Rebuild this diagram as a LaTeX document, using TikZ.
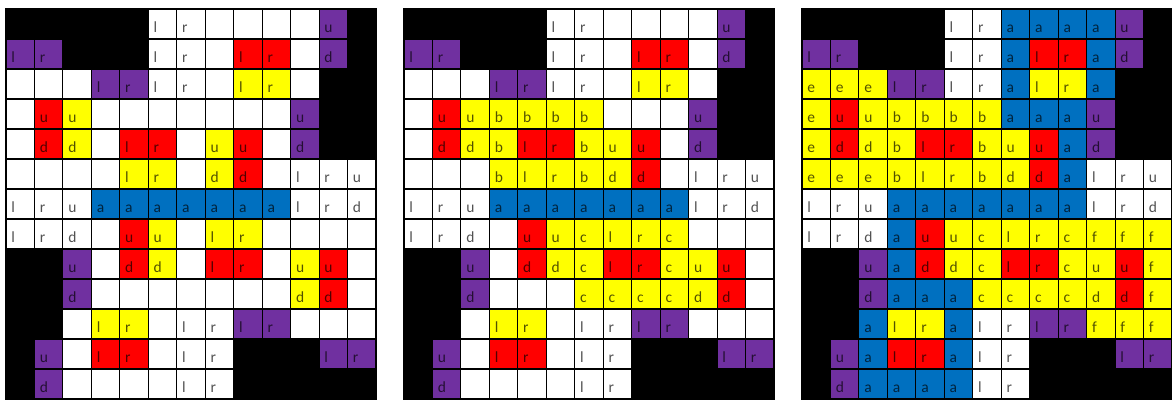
\documentclass[tikz,border=0pt]{standalone}
\usepackage{fontspec}
\setmainfont{Carlito}
\definecolor{cK}{RGB}{0,0,0}
\definecolor{cW}{RGB}{255,255,255}
\definecolor{cP}{RGB}{112,48,160}
\definecolor{cR}{RGB}{255,0,0}
\definecolor{cY}{RGB}{255,255,0}
\definecolor{cB}{RGB}{0,112,192}
\tikzset{
  cellbox/.style={draw=black, line width=1.1pt},
  lbl/.style={anchor=base west, inner sep=0pt, font=\fontsize{15.5}{17}\selectfont, text=black, text opacity=0.68}
}
\def\splitcell#1#2\end{\def\cc{#1}\def\ll{#2}}
\def\gridA{{K,K,K,K,K,Wl,Wr,W,W,W,W,Pu,K},
{Pl,Pr,K,K,K,Wl,Wr,W,Rl,Rr,W,Pd,K},
{W,W,W,Pl,Pr,Wl,Wr,W,Yl,Yr,W,K,K},
{W,Ru,Yu,W,W,W,W,W,W,W,Pu,K,K},
{W,Rd,Yd,W,Rl,Rr,W,Yu,Ru,W,Pd,K,K},
{W,W,W,W,Yl,Yr,W,Yd,Rd,W,Wl,Wr,Wu},
{Wl,Wr,Wu,Ba,Ba,Ba,Ba,Ba,Ba,Ba,Wl,Wr,Wd},
{Wl,Wr,Wd,W,Ru,Yu,W,Yl,Yr,W,W,W,W},
{K,K,Pu,W,Rd,Yd,W,Rl,Rr,W,Yu,Ru,W},
{K,K,Pd,W,W,W,W,W,W,W,Yd,Rd,W},
{K,K,W,Yl,Yr,W,Wl,Wr,Pl,Pr,W,W,W},
{K,Pu,W,Rl,Rr,W,Wl,Wr,K,K,K,Pl,Pr},
{K,Pd,W,W,W,W,Wl,Wr,K,K,K,K,K}}
\def\gridB{{K,K,K,K,K,Wl,Wr,W,W,W,W,Pu,K},
{Pl,Pr,K,K,K,Wl,Wr,W,Rl,Rr,W,Pd,K},
{W,W,W,Pl,Pr,Wl,Wr,W,Yl,Yr,W,K,K},
{W,Ru,Yu,Yb,Yb,Yb,Yb,W,W,W,Pu,K,K},
{W,Rd,Yd,Yb,Rl,Rr,Yb,Yu,Ru,W,Pd,K,K},
{W,W,W,Yb,Yl,Yr,Yb,Yd,Rd,W,Wl,Wr,Wu},
{Wl,Wr,Wu,Ba,Ba,Ba,Ba,Ba,Ba,Ba,Wl,Wr,Wd},
{Wl,Wr,Wd,W,Ru,Yu,Yc,Yl,Yr,Yc,W,W,W},
{K,K,Pu,W,Rd,Yd,Yc,Rl,Rr,Yc,Yu,Ru,W},
{K,K,Pd,W,W,W,Yc,Yc,Yc,Yc,Yd,Rd,W},
{K,K,W,Yl,Yr,W,Wl,Wr,Pl,Pr,W,W,W},
{K,Pu,W,Rl,Rr,W,Wl,Wr,K,K,K,Pl,Pr},
{K,Pd,W,W,W,W,Wl,Wr,K,K,K,K,K}}
\def\gridC{{K,K,K,K,K,Wl,Wr,Ba,Ba,Ba,Ba,Pu,K},
{Pl,Pr,K,K,K,Wl,Wr,Ba,Rl,Rr,Ba,Pd,K},
{Ye,Ye,Ye,Pl,Pr,Wl,Wr,Ba,Yl,Yr,Ba,K,K},
{Ye,Ru,Yu,Yb,Yb,Yb,Yb,Ba,Ba,Ba,Pu,K,K},
{Ye,Rd,Yd,Yb,Rl,Rr,Yb,Yu,Ru,Ba,Pd,K,K},
{Ye,Ye,Ye,Yb,Yl,Yr,Yb,Yd,Rd,Ba,Wl,Wr,Wu},
{Wl,Wr,Wu,Ba,Ba,Ba,Ba,Ba,Ba,Ba,Wl,Wr,Wd},
{Wl,Wr,Wd,Ba,Ru,Yu,Yc,Yl,Yr,Yc,Yf,Yf,Yf},
{K,K,Pu,Ba,Rd,Yd,Yc,Rl,Rr,Yc,Yu,Ru,Yf},
{K,K,Pd,Ba,Ba,Ba,Yc,Yc,Yc,Yc,Yd,Rd,Yf},
{K,K,Ba,Yl,Yr,Ba,Wl,Wr,Pl,Pr,Yf,Yf,Yf},
{K,Pu,Ba,Rl,Rr,Ba,Wl,Wr,K,K,K,Pl,Pr},
{K,Pd,Ba,Ba,Ba,Ba,Wl,Wr,K,K,K,K,K}}
\newcommand\drawmygrid[3]{%
  \foreach \row [count=\r from 0] in #2 {%
    \foreach \c [count=\x from 0] in \row {%
      \expandafter\splitcell\c\end
      \pgfmathsetmacro\xa{#1+\x*28.46}%
      \pgfmathsetmacro\ya{9+\r*30}%
      \path[cellbox, fill=c\cc] (\xa,\ya) rectangle ++(28.46,30);
      \ifx\ll\empty\else
        \node[lbl] (#3-\r-\x) at (\xa+5.2,\ya+23.5) {\ll};
      \fi
    }%
  }%
}
\begin{document}
\begin{tikzpicture}[x=1pt,y=-1pt]
\useasboundingbox[fill=white] (0,0) rectangle (1172,399);
\drawmygrid{6}{\gridA}{ga}
\drawmygrid{404}{\gridB}{gb}
\drawmygrid{802}{\gridC}{gc}
\end{tikzpicture}
\end{document}
